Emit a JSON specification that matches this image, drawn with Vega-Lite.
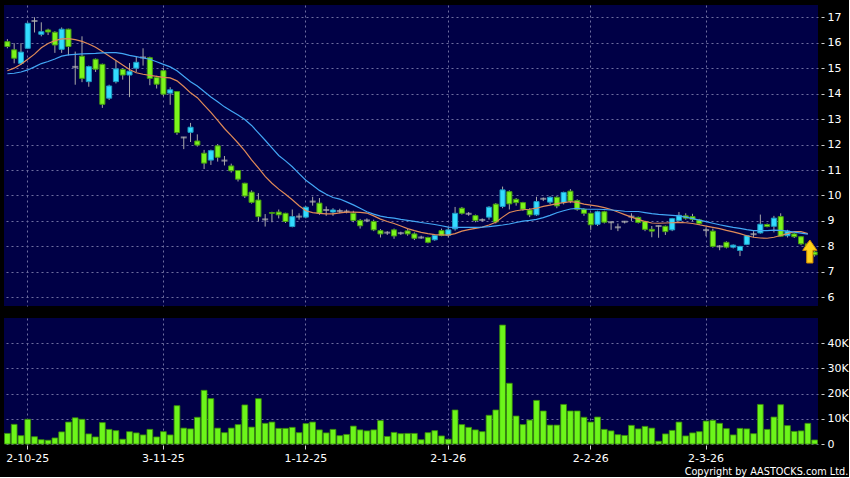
{
  "$schema": "https://vega.github.io/schema/vega-lite/v6.json",
  "background": "#000000",
  "padding": {"left": 4, "top": 5, "right": 0, "bottom": 0},
  "autosize": {"type": "pad"},
  "config": {
    "view": {"fill": "#000046", "stroke": null},
    "font": "DejaVu Sans",
    "axis": {"labelColor": "#ffffff", "labelFont": "DejaVu Sans", "labelFontSize": 11, "gridColor": "#6e6ea0", "gridDash": [2, 3], "gridWidth": 1, "domain": false, "tickColor": "#d0d0d0", "title": null, "labelOverlap": false}
  },
  "title": {"text": "Copyright by AASTOCKS.com Ltd.", "orient": "bottom", "anchor": "end", "color": "#ffffff", "fontSize": 10.8, "fontWeight": "normal", "font": "DejaVu Sans Condensed", "offset": 3},
  "datasets": {
    "candles": [
      {"day":0,"open":16.04,"high":16.14,"low":15.78,"close":15.85,"volume":4200,"ma10":14.9,"ma20":14.78},
      {"day":1,"open":15.72,"high":15.98,"low":15.19,"close":15.39,"volume":7800,"ma10":15.0,"ma20":14.8},
      {"day":2,"open":15.19,"high":15.98,"low":15.13,"close":15.63,"volume":3300,"ma10":15.15,"ma20":14.85},
      {"day":3,"open":15.78,"high":16.8,"low":15.75,"close":16.76,"volume":9800,"ma10":15.35,"ma20":14.93},
      {"day":4,"open":16.85,"high":17.0,"low":16.4,"close":16.85,"volume":2900,"ma10":15.55,"ma20":15.05},
      {"day":5,"open":16.33,"high":16.8,"low":16.25,"close":16.43,"volume":1700,"ma10":15.8,"ma20":15.18},
      {"day":6,"open":16.5,"high":16.55,"low":16.3,"close":16.42,"volume":1500,"ma10":15.97,"ma20":15.26},
      {"day":7,"open":16.41,"high":16.45,"low":15.6,"close":15.91,"volume":2400,"ma10":16.08,"ma20":15.36},
      {"day":8,"open":15.74,"high":16.6,"low":15.6,"close":16.53,"volume":4800,"ma10":16.15,"ma20":15.47},
      {"day":9,"open":16.53,"high":16.55,"low":15.5,"close":15.85,"volume":8700,"ma10":16.16,"ma20":15.52},
      {"day":10,"open":15.05,"high":15.65,"low":14.35,"close":15.05,"volume":10400,"ma10":16.12,"ma20":15.54},
      {"day":11,"open":15.47,"high":16.25,"low":14.45,"close":14.6,"volume":9800,"ma10":16.05,"ma20":15.56},
      {"day":12,"open":14.47,"high":15.1,"low":14.27,"close":15.06,"volume":4000,"ma10":15.95,"ma20":15.57},
      {"day":13,"open":15.35,"high":15.38,"low":14.85,"close":14.96,"volume":2800,"ma10":15.82,"ma20":15.58},
      {"day":14,"open":15.15,"high":15.18,"low":13.44,"close":13.58,"volume":8500,"ma10":15.65,"ma20":15.6},
      {"day":15,"open":13.82,"high":14.35,"low":13.75,"close":14.3,"volume":5800,"ma10":15.48,"ma20":15.61},
      {"day":16,"open":14.47,"high":15.3,"low":14.4,"close":14.97,"volume":5300,"ma10":15.3,"ma20":15.61},
      {"day":17,"open":14.95,"high":15.0,"low":14.55,"close":14.73,"volume":1900,"ma10":15.12,"ma20":15.57},
      {"day":18,"open":14.73,"high":15.2,"low":13.86,"close":14.88,"volume":4900,"ma10":14.95,"ma20":15.5},
      {"day":19,"open":15.0,"high":15.45,"low":14.85,"close":15.23,"volume":4400,"ma10":14.82,"ma20":15.45},
      {"day":20,"open":15.42,"high":15.78,"low":15.1,"close":15.42,"volume":3600,"ma10":14.76,"ma20":15.4},
      {"day":21,"open":15.41,"high":15.45,"low":14.33,"close":14.6,"volume":5800,"ma10":14.72,"ma20":15.35},
      {"day":22,"open":14.63,"high":14.7,"low":14.2,"close":14.37,"volume":2800,"ma10":14.68,"ma20":15.25},
      {"day":23,"open":14.9,"high":15.0,"low":13.9,"close":13.98,"volume":4900,"ma10":14.64,"ma20":15.15},
      {"day":24,"open":14.02,"high":14.25,"low":13.56,"close":14.15,"volume":3600,"ma10":14.62,"ma20":15.05},
      {"day":25,"open":14.08,"high":14.1,"low":12.38,"close":12.47,"volume":15200,"ma10":14.5,"ma20":14.9},
      {"day":26,"open":12.28,"high":12.3,"low":11.82,"close":12.28,"volume":6300,"ma10":14.28,"ma20":14.68},
      {"day":27,"open":12.48,"high":12.85,"low":12.1,"close":12.68,"volume":6000,"ma10":14.03,"ma20":14.47},
      {"day":28,"open":12.14,"high":12.4,"low":11.92,"close":11.98,"volume":10600,"ma10":13.84,"ma20":14.3},
      {"day":29,"open":11.66,"high":11.79,"low":11.04,"close":11.27,"volume":21300,"ma10":13.55,"ma20":14.08},
      {"day":30,"open":11.39,"high":11.8,"low":11.2,"close":11.76,"volume":18000,"ma10":13.26,"ma20":13.87},
      {"day":31,"open":11.95,"high":12.02,"low":11.33,"close":11.5,"volume":6300,"ma10":12.95,"ma20":13.68},
      {"day":32,"open":11.37,"high":11.55,"low":11.18,"close":11.37,"volume":4500,"ma10":12.63,"ma20":13.48},
      {"day":33,"open":11.16,"high":11.25,"low":10.9,"close":10.97,"volume":6300,"ma10":12.35,"ma20":13.32},
      {"day":34,"open":10.98,"high":11.0,"low":10.55,"close":10.64,"volume":7700,"ma10":12.06,"ma20":13.16},
      {"day":35,"open":10.48,"high":10.5,"low":9.9,"close":9.98,"volume":15500,"ma10":11.75,"ma20":12.98},
      {"day":36,"open":10.13,"high":10.2,"low":9.68,"close":9.73,"volume":6700,"ma10":11.4,"ma20":12.75},
      {"day":37,"open":9.82,"high":10.09,"low":8.97,"close":9.17,"volume":18000,"ma10":11.08,"ma20":12.46},
      {"day":38,"open":9.06,"high":9.27,"low":8.78,"close":9.06,"volume":8200,"ma10":10.75,"ma20":12.17},
      {"day":39,"open":9.33,"high":9.36,"low":8.95,"close":9.3,"volume":8700,"ma10":10.48,"ma20":11.87},
      {"day":40,"open":9.35,"high":9.45,"low":9.1,"close":9.24,"volume":6200,"ma10":10.25,"ma20":11.57},
      {"day":41,"open":9.3,"high":9.32,"low":8.92,"close":8.98,"volume":6200,"ma10":10.05,"ma20":11.36},
      {"day":42,"open":8.78,"high":9.45,"low":8.75,"close":9.17,"volume":6600,"ma10":9.83,"ma20":11.13},
      {"day":43,"open":9.17,"high":9.3,"low":9.05,"close":9.17,"volume":4500,"ma10":9.6,"ma20":10.86},
      {"day":44,"open":9.15,"high":9.58,"low":9.1,"close":9.54,"volume":8100,"ma10":9.4,"ma20":10.6},
      {"day":45,"open":9.76,"high":9.95,"low":9.6,"close":9.76,"volume":8700,"ma10":9.33,"ma20":10.4},
      {"day":46,"open":9.7,"high":9.9,"low":9.24,"close":9.3,"volume":5600,"ma10":9.3,"ma20":10.2},
      {"day":47,"open":9.43,"high":9.57,"low":9.2,"close":9.43,"volume":4400,"ma10":9.28,"ma20":10.05},
      {"day":48,"open":9.35,"high":9.5,"low":9.2,"close":9.43,"volume":5800,"ma10":9.28,"ma20":9.92},
      {"day":49,"open":9.39,"high":9.48,"low":9.3,"close":9.39,"volume":3300,"ma10":9.32,"ma20":9.86},
      {"day":50,"open":9.37,"high":9.45,"low":9.3,"close":9.37,"volume":3800,"ma10":9.35,"ma20":9.75},
      {"day":51,"open":9.3,"high":9.4,"low":8.95,"close":9.02,"volume":7100,"ma10":9.35,"ma20":9.63},
      {"day":52,"open":9.02,"high":9.08,"low":8.7,"close":8.81,"volume":5600,"ma10":9.34,"ma20":9.5},
      {"day":53,"open":9.02,"high":9.1,"low":8.95,"close":9.02,"volume":5200,"ma10":9.31,"ma20":9.36},
      {"day":54,"open":8.98,"high":9.05,"low":8.6,"close":8.65,"volume":5600,"ma10":9.2,"ma20":9.27},
      {"day":55,"open":8.62,"high":8.68,"low":8.35,"close":8.49,"volume":9300,"ma10":9.07,"ma20":9.19},
      {"day":56,"open":8.54,"high":8.6,"low":8.45,"close":8.54,"volume":3000,"ma10":8.98,"ma20":9.14},
      {"day":57,"open":8.65,"high":8.7,"low":8.3,"close":8.41,"volume":4600,"ma10":8.9,"ma20":9.11},
      {"day":58,"open":8.52,"high":8.58,"low":8.45,"close":8.52,"volume":4100,"ma10":8.8,"ma20":9.06},
      {"day":59,"open":8.61,"high":8.68,"low":8.42,"close":8.49,"volume":4200,"ma10":8.7,"ma20":9.02},
      {"day":60,"open":8.49,"high":8.55,"low":8.25,"close":8.32,"volume":4200,"ma10":8.62,"ma20":8.98},
      {"day":61,"open":8.35,"high":8.42,"low":8.3,"close":8.35,"volume":1700,"ma10":8.55,"ma20":8.94},
      {"day":62,"open":8.35,"high":8.38,"low":8.12,"close":8.16,"volume":4500,"ma10":8.5,"ma20":8.9},
      {"day":63,"open":8.26,"high":8.48,"low":8.22,"close":8.43,"volume":5300,"ma10":8.46,"ma20":8.86},
      {"day":64,"open":8.62,"high":8.7,"low":8.4,"close":8.43,"volume":3200,"ma10":8.45,"ma20":8.81},
      {"day":65,"open":8.44,"high":8.75,"low":8.35,"close":8.65,"volume":1900,"ma10":8.44,"ma20":8.76},
      {"day":66,"open":8.69,"high":9.55,"low":8.62,"close":9.3,"volume":13500,"ma10":8.5,"ma20":8.75},
      {"day":67,"open":9.5,"high":9.55,"low":9.25,"close":9.3,"volume":7700,"ma10":8.6,"ma20":8.75},
      {"day":68,"open":9.28,"high":9.35,"low":9.2,"close":9.28,"volume":6600,"ma10":8.66,"ma20":8.75},
      {"day":69,"open":9.21,"high":9.25,"low":8.95,"close":9.02,"volume":5600,"ma10":8.71,"ma20":8.75},
      {"day":70,"open":9.04,"high":9.1,"low":8.98,"close":9.04,"volume":4900,"ma10":8.76,"ma20":8.76},
      {"day":71,"open":9.15,"high":9.58,"low":9.05,"close":9.54,"volume":11400,"ma10":8.84,"ma20":8.78},
      {"day":72,"open":9.66,"high":9.7,"low":8.9,"close":8.96,"volume":13500,"ma10":8.95,"ma20":8.81},
      {"day":73,"open":9.57,"high":10.35,"low":9.5,"close":10.22,"volume":47200,"ma10":9.15,"ma20":8.84},
      {"day":74,"open":10.15,"high":10.2,"low":9.45,"close":9.67,"volume":24100,"ma10":9.33,"ma20":8.88},
      {"day":75,"open":9.85,"high":9.9,"low":9.6,"close":9.72,"volume":11100,"ma10":9.4,"ma20":8.94},
      {"day":76,"open":9.72,"high":9.75,"low":9.4,"close":9.46,"volume":7700,"ma10":9.44,"ma20":8.99},
      {"day":77,"open":9.43,"high":9.5,"low":9.15,"close":9.24,"volume":9500,"ma10":9.46,"ma20":9.02},
      {"day":78,"open":9.24,"high":9.95,"low":9.2,"close":9.76,"volume":17300,"ma10":9.5,"ma20":9.06},
      {"day":79,"open":9.87,"high":9.92,"low":9.78,"close":9.87,"volume":13100,"ma10":9.57,"ma20":9.13},
      {"day":80,"open":9.74,"high":9.97,"low":9.65,"close":9.93,"volume":7500,"ma10":9.62,"ma20":9.22},
      {"day":81,"open":9.93,"high":9.97,"low":9.5,"close":9.59,"volume":7500,"ma10":9.68,"ma20":9.32},
      {"day":82,"open":9.72,"high":10.15,"low":9.65,"close":10.12,"volume":15700,"ma10":9.72,"ma20":9.4},
      {"day":83,"open":10.17,"high":10.25,"low":9.7,"close":9.78,"volume":13100,"ma10":9.76,"ma20":9.47},
      {"day":84,"open":9.8,"high":9.85,"low":9.4,"close":9.46,"volume":13100,"ma10":9.73,"ma20":9.49},
      {"day":85,"open":9.46,"high":9.5,"low":9.2,"close":9.3,"volume":10600,"ma10":9.66,"ma20":9.47},
      {"day":86,"open":9.3,"high":9.32,"low":8.65,"close":8.85,"volume":8700,"ma10":9.62,"ma20":9.46},
      {"day":87,"open":8.87,"high":9.4,"low":8.8,"close":9.36,"volume":10700,"ma10":9.58,"ma20":9.46},
      {"day":88,"open":9.36,"high":9.4,"low":8.9,"close":8.95,"volume":5800,"ma10":9.52,"ma20":9.45},
      {"day":89,"open":8.95,"high":8.98,"low":8.65,"close":8.95,"volume":5200,"ma10":9.45,"ma20":9.43},
      {"day":90,"open":8.75,"high":8.9,"low":8.6,"close":8.75,"volume":3700,"ma10":9.35,"ma20":9.41},
      {"day":91,"open":8.97,"high":9.0,"low":8.9,"close":8.97,"volume":3400,"ma10":9.25,"ma20":9.38},
      {"day":92,"open":9.17,"high":9.3,"low":9.0,"close":9.17,"volume":7400,"ma10":9.15,"ma20":9.37},
      {"day":93,"open":9.14,"high":9.17,"low":8.9,"close":8.94,"volume":6000,"ma10":9.06,"ma20":9.37},
      {"day":94,"open":8.98,"high":9.0,"low":8.6,"close":8.67,"volume":7000,"ma10":8.98,"ma20":9.33},
      {"day":95,"open":8.67,"high":8.8,"low":8.36,"close":8.6,"volume":6300,"ma10":8.92,"ma20":9.29},
      {"day":96,"open":8.8,"high":8.82,"low":8.34,"close":8.8,"volume":1100,"ma10":8.91,"ma20":9.26},
      {"day":97,"open":8.79,"high":8.82,"low":8.45,"close":8.58,"volume":4000,"ma10":8.92,"ma20":9.24},
      {"day":98,"open":8.65,"high":9.12,"low":8.6,"close":9.09,"volume":5400,"ma10":8.93,"ma20":9.22},
      {"day":99,"open":9.02,"high":9.35,"low":8.98,"close":9.22,"volume":8700,"ma10":8.94,"ma20":9.2},
      {"day":100,"open":9.2,"high":9.3,"low":9.05,"close":9.11,"volume":3200,"ma10":8.93,"ma20":9.15},
      {"day":101,"open":9.17,"high":9.28,"low":9.0,"close":9.06,"volume":4400,"ma10":8.9,"ma20":9.09},
      {"day":102,"open":9.04,"high":9.08,"low":8.85,"close":8.9,"volume":4900,"ma10":8.85,"ma20":9.03},
      {"day":103,"open":8.64,"high":8.75,"low":8.4,"close":8.64,"volume":9100,"ma10":8.8,"ma20":8.97},
      {"day":104,"open":8.6,"high":8.7,"low":7.95,"close":8.0,"volume":9400,"ma10":8.75,"ma20":8.91},
      {"day":105,"open":8.0,"high":8.05,"low":7.85,"close":8.0,"volume":8200,"ma10":8.7,"ma20":8.85},
      {"day":106,"open":8.16,"high":8.2,"low":7.92,"close":7.97,"volume":6100,"ma10":8.63,"ma20":8.8},
      {"day":107,"open":7.97,"high":8.08,"low":7.92,"close":8.05,"volume":3600,"ma10":8.57,"ma20":8.75},
      {"day":108,"open":7.84,"high":8.02,"low":7.62,"close":8.0,"volume":6200,"ma10":8.5,"ma20":8.71},
      {"day":109,"open":8.08,"high":8.45,"low":8.05,"close":8.42,"volume":6000,"ma10":8.42,"ma20":8.66},
      {"day":110,"open":8.48,"high":8.6,"low":8.35,"close":8.48,"volume":4100,"ma10":8.36,"ma20":8.62},
      {"day":111,"open":8.53,"high":9.25,"low":8.5,"close":8.87,"volume":15700,"ma10":8.33,"ma20":8.62},
      {"day":112,"open":8.86,"high":8.9,"low":8.75,"close":8.78,"volume":5800,"ma10":8.32,"ma20":8.62},
      {"day":113,"open":8.79,"high":9.2,"low":8.55,"close":9.11,"volume":10700,"ma10":8.36,"ma20":8.64},
      {"day":114,"open":9.17,"high":9.3,"low":8.38,"close":8.4,"volume":15600,"ma10":8.43,"ma20":8.63},
      {"day":115,"open":8.42,"high":8.65,"low":8.35,"close":8.6,"volume":7300,"ma10":8.5,"ma20":8.6},
      {"day":116,"open":8.49,"high":8.52,"low":8.33,"close":8.38,"volume":5000,"ma10":8.58,"ma20":8.56},
      {"day":117,"open":8.38,"high":8.4,"low":8.05,"close":8.1,"volume":5200,"ma10":8.58,"ma20":8.52},
      {"day":118,"open":8.1,"high":8.15,"low":7.8,"close":7.85,"volume":8200,"ma10":8.5,"ma20":8.48},
      {"day":119,"open":7.78,"high":7.82,"low":7.6,"close":7.67,"volume":1600,"ma10":null,"ma20":null}
    ],
    "marker": [
      {"day":118,"price":7.8}
    ]
  },
  "spacing": 12,
  "bounds": "flush",
  "vconcat": [
    {
      "width": 814,
      "height": 301,
      "layer": [
        {
          "data": {"name": "candles"},
          "mark": {"type": "rule", "color": "#a8a8a8", "strokeWidth": 1},
          "encoding": {
            "x": {"field": "day", "type": "ordinal", "scale": {"paddingInner": 0, "paddingOuter": 0},
                  "axis": {"values": [3, 23, 44, 65, 86, 103], "labels": false, "ticks": false, "grid": true, "bandPosition": 0.5, "domain": false}},
            "y": {"field": "low", "type": "quantitative", "scale": {"domain": [5.66, 17.48], "nice": false, "zero": false},
                  "axis": {"orient": "right", "values": [6, 7, 8, 9, 10, 11, 12, 13, 14, 15, 16, 17], "grid": true, "tickSize": 3, "offset": 3, "labelPadding": 3, "labelOverlap": false}},
            "y2": {"field": "high"}
          }
        },
        {
          "data": {"name": "candles"},
          "transform": [{"filter": "datum.close != datum.open"}],
          "mark": {"type": "bar", "width": {"band": 0.75}, "strokeWidth": 1},
          "encoding": {
            "x": {"field": "day", "type": "ordinal",
                  "axis": {"values": [3, 23, 44, 65, 86, 103], "labels": false, "ticks": false, "grid": true, "bandPosition": 0.5, "domain": false}},
            "y": {"field": "open", "type": "quantitative",
                  "axis": {"orient": "right", "values": [6, 7, 8, 9, 10, 11, 12, 13, 14, 15, 16, 17], "grid": true, "tickSize": 3, "offset": 3, "labelPadding": 3, "labelOverlap": false}},
            "y2": {"field": "close"},
            "color": {"condition": {"test": "datum.close > datum.open", "value": "#33dcff"}, "value": "#7cf51c"},
            "stroke": {"condition": {"test": "datum.close > datum.open", "value": "#1c9cc4"}, "value": "#449a12"}
          }
        },
        {
          "data": {"name": "candles"},
          "transform": [{"filter": "datum.close == datum.open"}],
          "mark": {"type": "tick", "color": "#b0b0b0", "thickness": 2, "size": 6},
          "encoding": {
            "x": {"field": "day", "type": "ordinal",
                  "axis": {"values": [3, 23, 44, 65, 86, 103], "labels": false, "ticks": false, "grid": true, "bandPosition": 0.5, "domain": false}},
            "y": {"field": "close", "type": "quantitative",
                  "axis": {"orient": "right", "values": [6, 7, 8, 9, 10, 11, 12, 13, 14, 15, 16, 17], "grid": true, "tickSize": 3, "offset": 3, "labelPadding": 3, "labelOverlap": false}}
          }
        },
        {
          "data": {"name": "candles"},
          "mark": {"type": "line", "color": "#e08a58", "strokeWidth": 1.2},
          "encoding": {
            "x": {"field": "day", "type": "ordinal",
                  "axis": {"values": [3, 23, 44, 65, 86, 103], "labels": false, "ticks": false, "grid": true, "bandPosition": 0.5, "domain": false}},
            "y": {"field": "ma10", "type": "quantitative",
                  "axis": {"orient": "right", "values": [6, 7, 8, 9, 10, 11, 12, 13, 14, 15, 16, 17], "grid": true, "tickSize": 3, "offset": 3, "labelPadding": 3, "labelOverlap": false}}
          }
        },
        {
          "data": {"name": "candles"},
          "mark": {"type": "line", "color": "#42a6f5", "strokeWidth": 1.2},
          "encoding": {
            "x": {"field": "day", "type": "ordinal",
                  "axis": {"values": [3, 23, 44, 65, 86, 103], "labels": false, "ticks": false, "grid": true, "bandPosition": 0.5, "domain": false}},
            "y": {"field": "ma20", "type": "quantitative",
                  "axis": {"orient": "right", "values": [6, 7, 8, 9, 10, 11, 12, 13, 14, 15, 16, 17], "grid": true, "tickSize": 3, "offset": 3, "labelPadding": 3, "labelOverlap": false}}
          }
        },
        {
          "data": {"name": "marker"},
          "mark": {"type": "point", "filled": true, "shape": "M-0.27,1L0.27,1L0.27,-0.1L0.62,-0.1L0,-1L-0.62,-0.1L-0.27,-0.1Z", "size": 530, "fill": "#ffd21a", "stroke": "#d08a00", "strokeWidth": 1, "opacity": 1, "xOffset": 2},
          "encoding": {
            "x": {"field": "day", "type": "ordinal",
                  "axis": {"values": [3, 23, 44, 65, 86, 103], "labels": false, "ticks": false, "grid": true, "bandPosition": 0.5, "domain": false}},
            "y": {"field": "price", "type": "quantitative",
                  "axis": {"orient": "right", "values": [6, 7, 8, 9, 10, 11, 12, 13, 14, 15, 16, 17], "grid": true, "tickSize": 3, "offset": 3, "labelPadding": 3, "labelOverlap": false}}
          }
        }
      ]
    },
    {
      "width": 814,
      "height": 126,
      "data": {"name": "candles"},
      "mark": {"type": "bar", "width": {"band": 0.85}, "fill": "#6cf51a", "stroke": "#3a8a0a", "strokeWidth": 0.8},
      "encoding": {
        "x": {"field": "day", "type": "ordinal", "scale": {"paddingInner": 0, "paddingOuter": 0},
              "axis": {"values": [3, 23, 44, 65, 86, 103], "grid": true, "bandPosition": 0.5, "tickSize": 4, "offset": 1, "labelPadding": 3, "labelAngle": 0,
                       "labelExpr": "datum.value == 3 ? '2-10-25' : datum.value == 23 ? '3-11-25' : datum.value == 44 ? '1-12-25' : datum.value == 65 ? '2-1-26' : datum.value == 86 ? '2-2-26' : '2-3-26'"}},
        "y": {"field": "volume", "type": "quantitative", "scale": {"domain": [0, 50000], "nice": false},
              "axis": {"orient": "right", "values": [0, 10000, 20000, 30000, 40000], "grid": true, "tickSize": 3, "offset": 3, "labelPadding": 3,
                       "labelExpr": "datum.value == 0 ? '0' : (datum.value / 1000) + 'K'"}}
      }
    }
  ]
}
